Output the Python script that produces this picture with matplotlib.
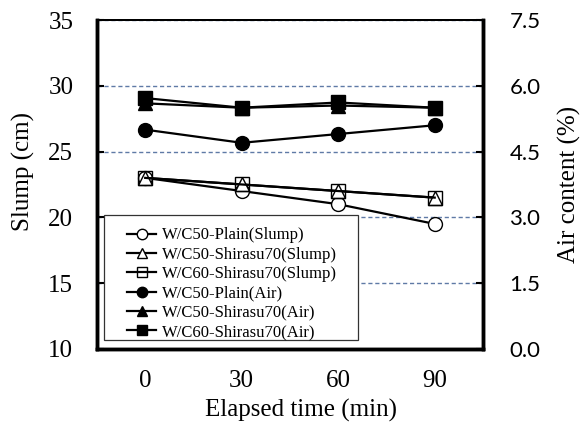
import matplotlib
matplotlib.use("Agg")
import matplotlib.pyplot as plt
from matplotlib.patches import Rectangle

# ---- data ----
times = ["0", "30", "60", "90"]

slump_c50_plain = [23.0, 22.0, 21.0, 19.5]
slump_c50_shirasu = [23.0, 22.5, 22.0, 21.5]
slump_c60_shirasu = [23.0, 22.5, 22.0, 21.5]

air_c50_plain = [5.0, 4.7, 4.9, 5.1]
air_c50_shirasu = [5.6, 5.5, 5.55, 5.5]
air_c60_shirasu = [5.72, 5.5, 5.62, 5.5]

labels = [
    "W/C50-Plain(Slump)",
    "W/C50-Shirasu70(Slump)",
    "W/C60-Shirasu70(Slump)",
    "W/C50-Plain(Air)",
    "W/C50-Shirasu70(Air)",
    "W/C60-Shirasu70(Air)",
]

SERIF = ["Liberation Serif", "DejaVu Serif"]
SANS = ["Lato", "DejaVu Sans"]

fig = plt.figure(figsize=(5.84, 4.26), dpi=100)
ax = fig.add_axes([0.166, 0.181, 0.661, 0.772])
ax2 = ax.twinx()

x = list(range(len(times)))
lw = 1.6
ms = 10

# slump (left axis), open markers
h1, = ax.plot(x, slump_c50_plain, "-", color="black", lw=lw, marker="o", ms=ms,
              mfc="white", mec="black", mew=1.0)
h2, = ax.plot(x, slump_c50_shirasu, "-", color="black", lw=lw, marker="^", ms=ms,
              mfc="white", mec="black", mew=1.0)
h3, = ax.plot(x, slump_c60_shirasu, "-", color="black", lw=lw, marker="s", ms=ms,
              mfc="none", mec="black", mew=1.0)

# air (right axis), filled markers
h4, = ax2.plot(x, air_c50_plain, "-", color="black", lw=lw, marker="o", ms=ms)
h5, = ax2.plot(x, air_c50_shirasu, "-", color="black", lw=lw, marker="^", ms=ms)
h6, = ax2.plot(x, air_c60_shirasu, "-", color="black", lw=lw, marker="s", ms=ms)

ax.set_xlim(-0.5, 3.5)
ax.set_ylim(10, 35)
ax2.set_ylim(0, 7.5)
ax.set_yticks([10, 15, 20, 25, 30, 35])
ax2.set_yticks([0, 1.5, 3.0, 4.5, 6.0, 7.5])
ax2.set_yticklabels(["0.0", "1.5", "3.0", "4.5", "6.0", "7.5"])
ax.set_xticks(x)
ax.set_xticklabels(times)

# dashed grid from left axis
ax.yaxis.grid(True, linestyle=(0, (3, 2)), color="#5f7aa6", lw=1.0)
ax.set_axisbelow(True)

for tl in ax.get_xticklabels() + ax.get_yticklabels():
    tl.set_family(SERIF)
    tl.set_fontsize(18)
for tl in ax2.get_yticklabels():
    tl.set_family(SANS)
    tl.set_fontsize(16)

ax.tick_params(axis="x", length=0, pad=15)
ax.tick_params(axis="y", direction="in", length=5, width=1.5, pad=17)
ax2.tick_params(axis="y", direction="in", length=5, width=1.5, pad=19)

for a in (ax, ax2):
    for side in ("left", "right", "bottom"):
        a.spines[side].set_linewidth(2.5)
    a.spines["top"].set_linewidth(1.4)

ax.set_ylabel("Slump (cm)", family=SERIF, fontsize=18)
ax.yaxis.set_label_coords(-0.161, 0.538)
ax2.set_ylabel("Air content (%)", family=SERIF, fontsize=18)
ax2.yaxis.set_label_coords(1.194, 0.5)
ax.set_xlabel("Elapsed time (min)", family=SERIF, fontsize=18)
ax.xaxis.set_label_coords(0.528, -0.152)

# legend box drawn as plain rectangle (wide side padding like the original)
box = Rectangle((0.018, 0.027), 0.658, 0.380, transform=ax2.transAxes,
                facecolor="white", edgecolor="#333333", lw=0.9, zorder=4)
ax2.add_patch(box)
leg = ax2.legend([h1, h2, h3, h4, h5, h6], labels, loc="center",
                 bbox_to_anchor=(0.35, 0.198), frameon=False,
                 prop={"family": SERIF, "size": 12}, labelspacing=0.2,
                 handlelength=1.7, handletextpad=0.35, borderpad=0.2,
                 markerscale=0.75)
leg.set_zorder(5)

plt.savefig("out.png", dpi=100)
